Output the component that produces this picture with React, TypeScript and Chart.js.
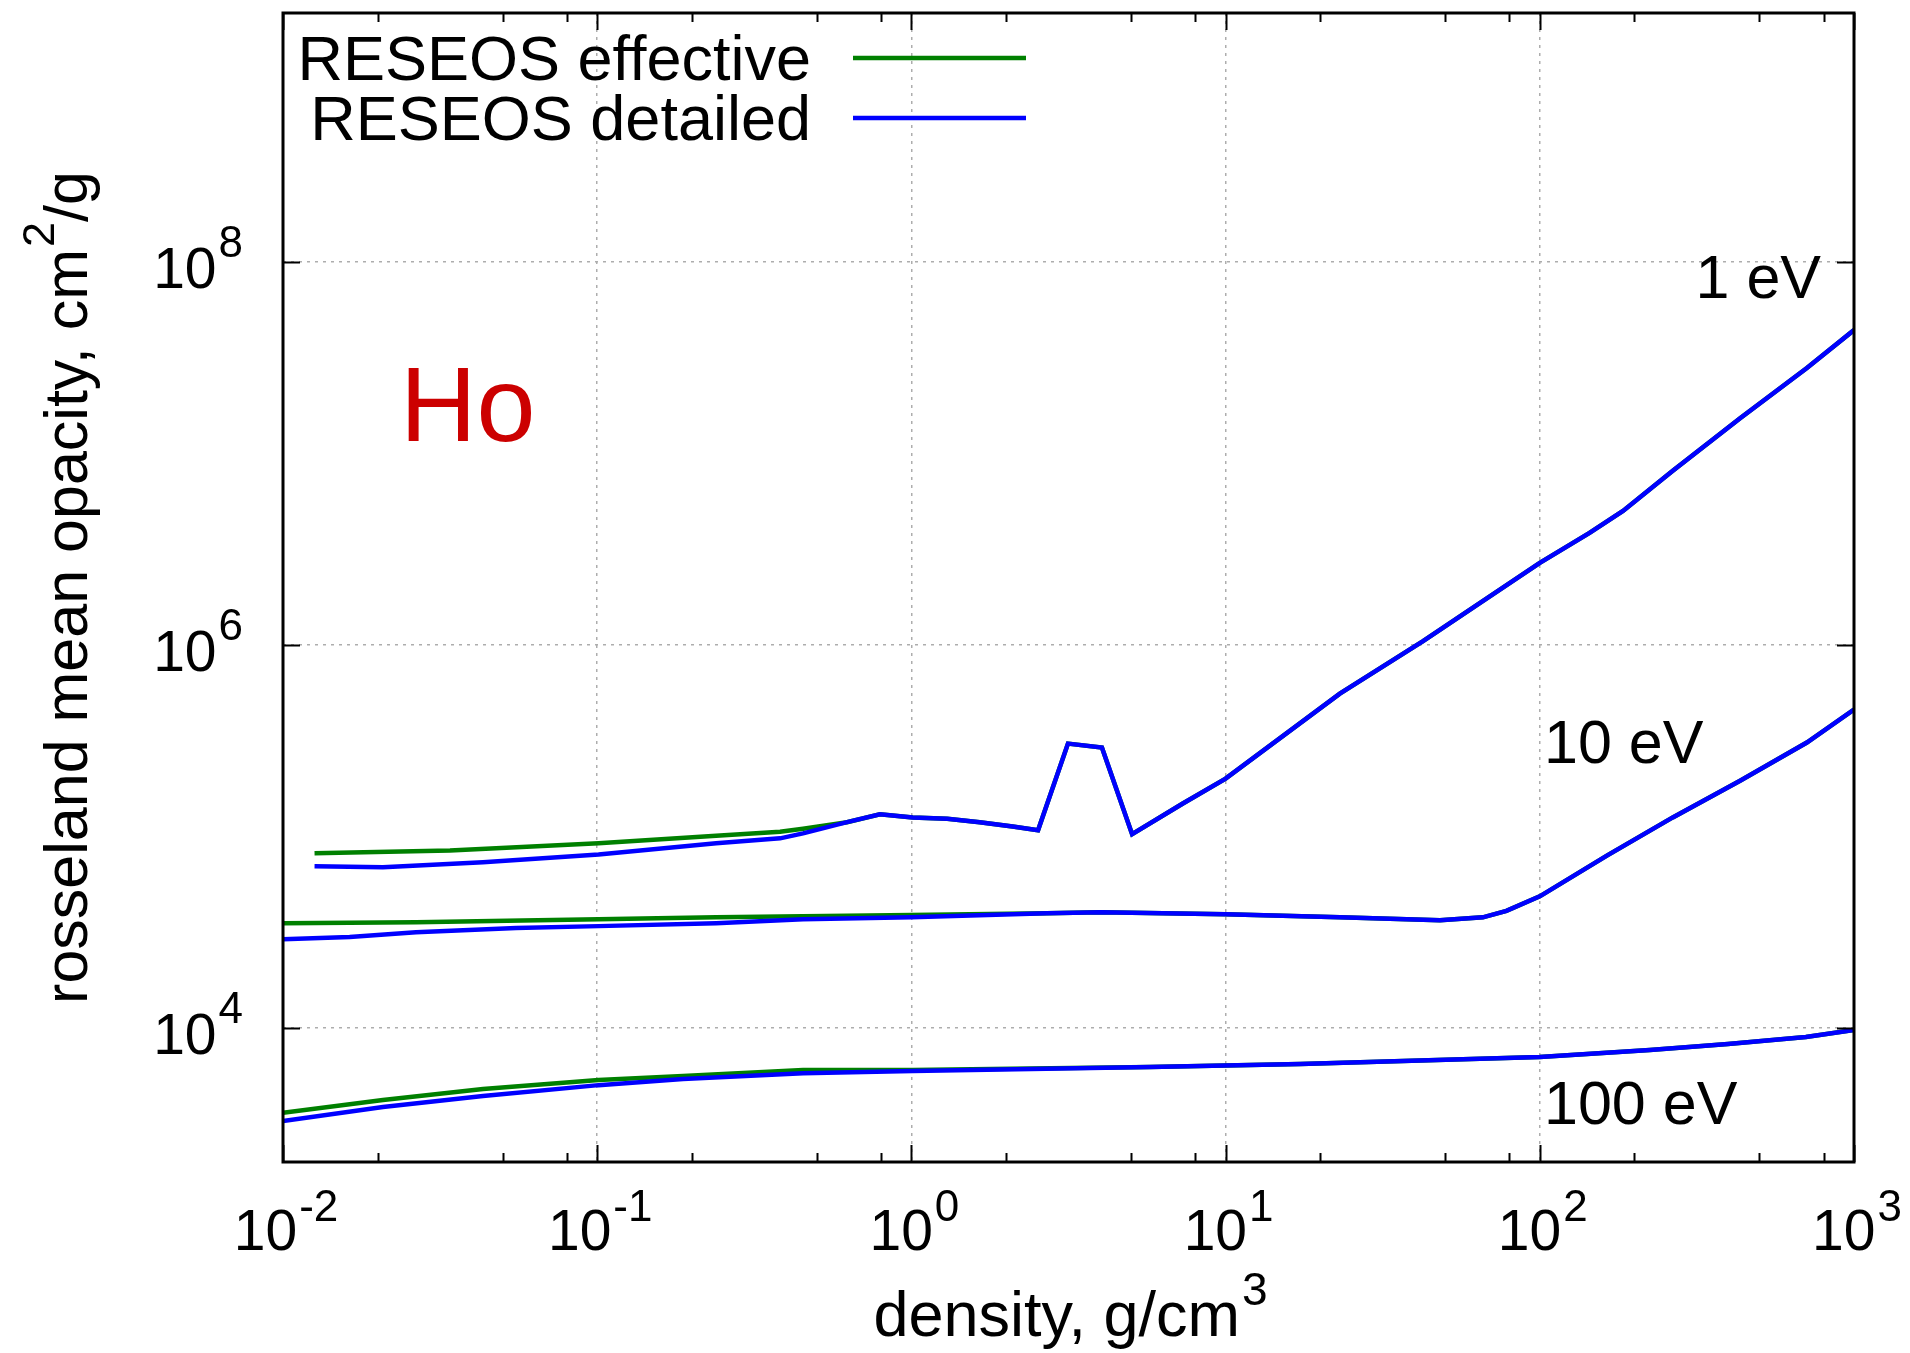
import React, { useEffect, useRef } from 'react';
import { Chart, registerables } from 'chart.js';

Chart.register(...registerables);

// ---------- data ----------
const seriesNames = ['RESEOS effective', 'RESEOS detailed'];
const seriesColors = ['#008000', '#0000ff'];
const temperatureLabels = ['1 eV', '10 eV', '100 eV'];
const elementLabel = 'Ho';

const xMajorTicks = [0.01, 0.1, 1, 10, 100, 1000];
const xMinorFactors = [2, 5, 8];
const yMajorTicks = [1e4, 1e6, 1e8];
const xTickBase = '10';
const xTickExponents = ['-2', '-1', '0', '1', '2', '3'];
const yTickExponents = ['4', '6', '8'];
const xAxisTitleParts = ['density, g/cm', '3'];
const yAxisTitleParts = ['rosseland mean opacity, cm', '2', '/g'];

// 1 eV
const eff1Density = [0.0126, 0.034, 0.101, 0.239, 0.382, 0.452, 0.624, 0.794, 1.01, 1.3, 1.65, 2.1, 2.53, 3.15, 4.04, 5.04, 7.31, 10, 23.1, 42.5, 100, 144, 184, 265, 434, 708, 1000];
const eff1Opacity = [8.18e4, 8.47e4, 9.23e4, 1.01e5, 1.06e5, 1.1e5, 1.19e5, 1.31e5, 1.26e5, 1.24e5, 1.19e5, 1.13e5, 1.08e5, 3.06e5, 2.92e5, 1.03e5, 1.49e5, 2.01e5, 5.58e5, 1.05e6, 2.69e6, 3.86e6, 5.02e6, 8.13e6, 1.53e7, 2.8e7, 4.42e7];
const det1Density = [0.0126, 0.0208, 0.0433, 0.101, 0.239, 0.382, 0.452, 0.624, 0.794, 1.01, 1.3, 1.65, 2.1, 2.53, 3.15, 4.04, 5.04, 7.31, 10, 23.1, 42.5, 100, 144, 184, 265, 434, 708, 1000];
const det1Opacity = [7.0e4, 6.92e4, 7.35e4, 8.07e4, 9.23e4, 9.8e4, 1.04e5, 1.19e5, 1.31e5, 1.26e5, 1.24e5, 1.19e5, 1.13e5, 1.08e5, 3.06e5, 2.92e5, 1.03e5, 1.49e5, 2.01e5, 5.58e5, 1.05e6, 2.69e6, 3.86e6, 5.02e6, 8.13e6, 1.53e7, 2.8e7, 4.42e7];

// 10 eV
const eff10Density = [0.01, 0.0265, 0.101, 0.239, 0.452, 1.0, 2.7, 4.0, 10, 23.1, 48.1, 65.9, 78.3, 100, 164, 265, 434, 708, 1000];
const eff10Opacity = [3.53e4, 3.57e4, 3.7e4, 3.79e4, 3.84e4, 3.9e4, 3.98e4, 4.03e4, 3.93e4, 3.79e4, 3.66e4, 3.79e4, 4.1e4, 4.88e4, 7.98e4, 1.26e5, 1.96e5, 3.1e5, 4.61e5];
const det10Density = [0.01, 0.0163, 0.0265, 0.0552, 0.101, 0.239, 0.452, 1.0, 2.7, 4.0, 10, 23.1, 48.1, 65.9, 78.3, 100, 164, 265, 434, 708, 1000];
const det10Opacity = [2.91e4, 2.99e4, 3.17e4, 3.33e4, 3.41e4, 3.53e4, 3.7e4, 3.79e4, 3.98e4, 4.03e4, 3.93e4, 3.79e4, 3.66e4, 3.79e4, 4.1e4, 4.88e4, 7.98e4, 1.26e5, 1.96e5, 3.1e5, 4.61e5];

// 100 eV
const eff100Density = [0.01, 0.0208, 0.0433, 0.101, 0.1875, 0.452, 1.01, 5.74, 17.3, 100, 224, 397, 703, 1000];
const eff100Opacity = [3.61e3, 4.22e3, 4.81e3, 5.36e3, 5.62e3, 6.04e3, 6.05e3, 6.27e3, 6.49e3, 7.06e3, 7.68e3, 8.26e3, 8.98e3, 9.77e3];
const det100Density = [0.01, 0.0208, 0.0433, 0.101, 0.1875, 0.452, 1.01, 5.74, 17.3, 100, 224, 397, 703, 1000];
const det100Opacity = [3.27e3, 3.87e3, 4.42e3, 5.04e3, 5.42e3, 5.82e3, 5.97e3, 6.27e3, 6.49e3, 7.06e3, 7.68e3, 8.26e3, 8.98e3, 9.77e3];

// ---------- styling / layout ----------
const W = 1910;
const H = 1353;
const PLOT = { left: 283, right: 1854, top: 13, bottom: 1162 };
const FONT = '"Liberation Sans", Arial, Helvetica, sans-serif';

const zip = (xs: number[], ys: number[]) => xs.map((x, i) => ({ x, y: ys[i] }));
const isDecade = (v: number) => Math.abs(Math.log10(v) - Math.round(Math.log10(v))) < 1e-9;

function drawPower(ctx: CanvasRenderingContext2D, base: string, exp: string, x: number, y: number, align: 'center' | 'right' | 'left', baseSize: number, supSize: number, raise: number, after = '') {
  ctx.font = `${baseSize}px ${FONT}`;
  const wb = ctx.measureText(base).width;
  const wa = after ? ctx.measureText(after).width : 0;
  ctx.font = `${supSize}px ${FONT}`;
  const we = ctx.measureText(exp).width;
  const gap = 2;
  const total = wb + gap + we + wa;
  let x0 = x;
  if (align === 'center') x0 = x - total / 2;
  else if (align === 'right') x0 = x - total;
  ctx.textAlign = 'left';
  ctx.textBaseline = 'alphabetic';
  ctx.font = `${baseSize}px ${FONT}`;
  ctx.fillText(base, x0, y);
  ctx.font = `${supSize}px ${FONT}`;
  ctx.fillText(exp, x0 + wb + gap, y - raise);
  if (after) {
    ctx.font = `${baseSize}px ${FONT}`;
    ctx.fillText(after, x0 + wb + gap + we, y);
  }
}

const decorPlugin = {
  id: 'gnuplotDecor',
  afterDraw(chart: any) {
    const ctx: CanvasRenderingContext2D = chart.ctx;
    const area = chart.chartArea;
    const xs = chart.scales.x;
    const ys = chart.scales.y;
    ctx.save();
    ctx.fillStyle = '#000';
    ctx.strokeStyle = '#000';

    // tick marks (inward, all four sides)
    ctx.lineWidth = 2;
    ctx.beginPath();
    xs.ticks.forEach((t: any) => {
      const px = Math.round(xs.getPixelForValue(t.value)) + 0.5;
      const len = isDecade(t.value) ? 17 : 9;
      ctx.moveTo(px, area.bottom);
      ctx.lineTo(px, area.bottom - len);
      ctx.moveTo(px, area.top);
      ctx.lineTo(px, area.top + len);
    });
    ys.ticks.forEach((t: any) => {
      const py = Math.round(ys.getPixelForValue(t.value)) + 0.5;
      const len = 17;
      ctx.moveTo(area.left, py);
      ctx.lineTo(area.left + len, py);
      ctx.moveTo(area.right, py);
      ctx.lineTo(area.right - len, py);
    });
    ctx.stroke();

    // border
    ctx.lineWidth = 3;
    ctx.strokeRect(area.left, area.top, area.right - area.left, area.bottom - area.top);

    // x tick labels
    xMajorTicks.forEach((v, i) => {
      const px = xs.getPixelForValue(v);
      drawPower(ctx, xTickBase, xTickExponents[i], px + 3, area.bottom + 88, 'center', 57, 44, 29);
    });
    // y tick labels
    yMajorTicks.forEach((v, i) => {
      const py = ys.getPixelForValue(v);
      drawPower(ctx, xTickBase, yTickExponents[i], area.left - 40, py + 26, 'right', 57, 44, 31);
    });

    // axis titles
    drawPower(ctx, xAxisTitleParts[0], xAxisTitleParts[1], (area.left + area.right) / 2 + 2, 1336, 'center', 63, 46, 31);
    ctx.save();
    ctx.translate(87, (area.top + area.bottom) / 2);
    ctx.rotate(-Math.PI / 2);
    drawPower(ctx, yAxisTitleParts[0], yAxisTitleParts[1], 0, 0, 'center', 61, 45, 33, yAxisTitleParts[2]);
    ctx.restore();

    // legend (gnuplot style: right-aligned text, then line sample)
    ctx.font = `63px ${FONT}`;
    ctx.textAlign = 'right';
    ctx.textBaseline = 'alphabetic';
    seriesNames.forEach((name, i) => {
      const by = 80 + 60 * i;
      ctx.fillStyle = '#000';
      ctx.fillText(name, 811, by);
      ctx.strokeStyle = seriesColors[i];
      ctx.lineWidth = 4.5;
      ctx.beginPath();
      ctx.moveTo(853, by - 22);
      ctx.lineTo(1026, by - 22);
      ctx.stroke();
    });

    // temperature labels
    ctx.fillStyle = '#000';
    ctx.font = `61px ${FONT}`;
    ctx.textAlign = 'right';
    ctx.fillText(temperatureLabels[0], 1821, 298);
    ctx.textAlign = 'left';
    ctx.fillText(temperatureLabels[1], 1544, 763);
    ctx.fillText(temperatureLabels[2], 1544, 1124);

    // element label
    ctx.fillStyle = '#cc0000';
    ctx.font = `106px ${FONT}`;
    ctx.textAlign = 'left';
    ctx.fillText(elementLabel, 400, 441);

    ctx.restore();
  },
};

export default function App() {
  const canvasRef = useRef<HTMLCanvasElement | null>(null);

  useEffect(() => {
    const canvas = canvasRef.current;
    if (!canvas) return;

    const mk = (label: string, xsArr: number[], ysArr: number[], kind: number) => ({
      label,
      data: zip(xsArr, ysArr),
      borderColor: seriesColors[kind],
      backgroundColor: seriesColors[kind],
      borderWidth: 4.5,
      pointRadius: 0,
      tension: 0,
      fill: false,
      order: kind === 1 ? 1 : 2,
    });

    const datasets = [
      mk(`${seriesNames[0]} ${temperatureLabels[0]}`, eff1Density, eff1Opacity, 0),
      mk(`${seriesNames[0]} ${temperatureLabels[1]}`, eff10Density, eff10Opacity, 0),
      mk(`${seriesNames[0]} ${temperatureLabels[2]}`, eff100Density, eff100Opacity, 0),
      mk(`${seriesNames[1]} ${temperatureLabels[0]}`, det1Density, det1Opacity, 1),
      mk(`${seriesNames[1]} ${temperatureLabels[1]}`, det10Density, det10Opacity, 1),
      mk(`${seriesNames[1]} ${temperatureLabels[2]}`, det100Density, det100Opacity, 1),
    ];

    const gridColor = (c: any) => (c.tick && isDecade(c.tick.value) ? '#adadad' : 'rgba(0,0,0,0)');

    const chart = new Chart(canvas, {
      type: 'line',
      data: { datasets },
      options: {
        animation: false,
        responsive: false,
        devicePixelRatio: 1,
        parsing: true,
        layout: { padding: { left: 0, top: PLOT.top, right: W - PLOT.right, bottom: 0 } },
        plugins: {
          legend: { display: false },
          tooltip: { enabled: false },
          title: { display: false },
        },
        scales: {
          x: {
            type: 'logarithmic',
            min: 0.01,
            max: 1000,
            afterBuildTicks: (scale: any) => {
              const ticks: any[] = [];
              xMajorTicks.forEach((m, i) => {
                ticks.push({ value: m });
                if (i < xMajorTicks.length - 1) xMinorFactors.forEach((f) => ticks.push({ value: m * f }));
              });
              scale.ticks = ticks;
            },
            afterFit: (scale: any) => {
              scale.height = H - PLOT.bottom;
            },
            ticks: { display: false },
            grid: { color: gridColor, lineWidth: 1.5, drawTicks: false },
            border: { display: false, dash: [3, 5] },
          },
          y: {
            type: 'logarithmic',
            min: 2000,
            max: 2e9,
            afterBuildTicks: (scale: any) => {
              scale.ticks = yMajorTicks.map((v) => ({ value: v }));
            },
            afterFit: (scale: any) => {
              scale.width = PLOT.left;
            },
            ticks: { display: false },
            grid: { color: gridColor, lineWidth: 1.5, drawTicks: false },
            border: { display: false, dash: [3, 5] },
          },
        },
      },
      plugins: [decorPlugin],
    } as any);

    return () => chart.destroy();
  }, []);

  return (
    <div style={{ position: 'absolute', left: 0, top: 0, width: W, height: H, background: '#fff' }}>
      <canvas ref={canvasRef} width={W} height={H} style={{ width: W, height: H, display: 'block' }} />
    </div>
  );
}
